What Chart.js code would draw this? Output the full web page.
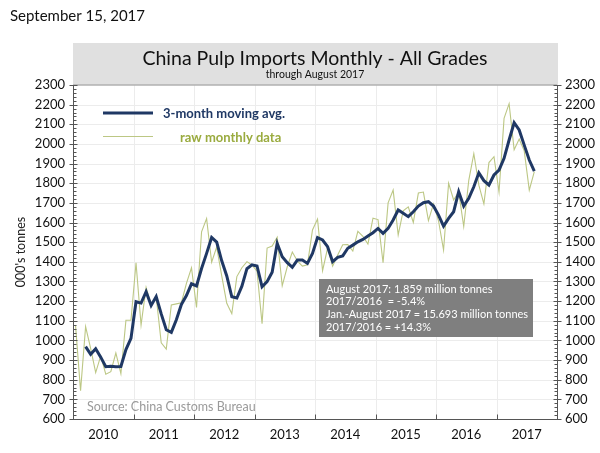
<!DOCTYPE html>
<html>
<head>
<meta charset="utf-8">
<script src="https://cdn.jsdelivr.net/npm/chart.js@4"></script>
<style>
html,body{margin:0;padding:0;background:#fff;}
#wrap{width:600px;height:453px;position:relative;}
</style>
</head>
<body>
<div id="wrap"><canvas id="c" width="600" height="453"></canvas></div>
<script>
// ---- data (000's tonnes), monthly Jan 2010 .. Aug 2017 ----
const years = ['2010','2011','2012','2013','2014','2015','2016','2017'];
const rawMonthly = [
  1078, 744, 1070, 960, 836, 921, 828, 841, 936, 831, 1103, 1103,
  1395, 1078, 1270, 1180, 1222, 988, 956, 1180, 1186, 1192, 1290, 1370,
  1168, 1553, 1620, 1398, 1475, 1328, 1189, 1136, 1325, 1370, 1401, 1384,
  1352, 1085, 1470, 1480, 1525, 1278, 1375, 1450, 1404, 1378, 1385, 1562,
  1618, 1355, 1470, 1378, 1435, 1487, 1488, 1455, 1555, 1530, 1490, 1622,
  1615, 1395, 1700, 1765, 1537, 1660, 1680, 1600, 1750, 1755, 1610, 1695,
  1609, 1460, 1800, 1715, 1756, 1580, 1815, 1950, 1790, 1695, 1905, 1935,
  1755, 2130, 2205, 1970, 2025, 1965, 1765, 1859
];
// 3-month moving average, Mar 2010 .. Aug 2017
const movingAvg = [
  968, 929, 958, 915, 866, 868, 866, 867, 953, 1010,
  1197, 1190, 1248, 1178, 1223, 1135, 1054, 1041, 1105, 1183, 1228, 1288,
  1277, 1366, 1443, 1524, 1500, 1405, 1328, 1222, 1216, 1276, 1365, 1385,
  1379, 1273, 1299, 1347, 1494, 1426, 1396, 1372, 1409, 1409, 1392, 1443,
  1523, 1511, 1477, 1401, 1423, 1430, 1469, 1485, 1502, 1514, 1531, 1548,
  1570, 1545, 1570, 1613, 1664, 1647, 1630, 1655, 1684, 1701, 1706, 1684,
  1638, 1582, 1621, 1655, 1757, 1684, 1723, 1782, 1853, 1813, 1791, 1842,
  1867, 1927, 2020, 2108, 2071, 1994, 1918, 1862
];
const maStartMonth = 2;
const yMin = 600, yMax = 2300, yStep = 100;

const FONT = 'Lato, "Open Sans", sans-serif';
const NAVY = '#1f3864';
const RAWC = '#bcc784';
const GREENTXT = '#9aab3f';

const rawPts = rawMonthly.map((v, i) => ({x: i + 0.5, y: v}));
const maPts = movingAvg.map((v, i) => ({x: i + maStartMonth + 0.5, y: v}));

const deco = {
  id: 'deco',
  beforeDraw(chart) {
    const ctx = chart.ctx;
    ctx.save();
    ctx.fillStyle = '#fff';
    ctx.fillRect(0, 0, chart.width, chart.height);
    ctx.restore();
  },
  beforeDatasetsDraw(chart) {
    const ctx = chart.ctx, a = chart.chartArea;
    const xs = chart.scales.x, ys = chart.scales.y;
    ctx.save();
    ctx.strokeStyle = '#ececec';
    ctx.lineWidth = 1;
    for (let v = yMin + yStep; v < yMax; v += yStep) {
      const p = Math.round(ys.getPixelForValue(v)) + 0.5;
      ctx.beginPath(); ctx.moveTo(a.left, p); ctx.lineTo(a.right, p); ctx.stroke();
    }
    for (let k = 1; k < years.length; k++) {
      const p = Math.round(xs.getPixelForValue(k * 12)) + 0.5;
      ctx.beginPath(); ctx.moveTo(p, a.top); ctx.lineTo(p, a.bottom); ctx.stroke();
    }
    ctx.restore();
  },
  afterDatasetsDraw(chart) {
    const ctx = chart.ctx, a = chart.chartArea;
    const xs = chart.scales.x, ys = chart.scales.y;
    ctx.save();
    // title box
    ctx.fillStyle = '#e0e0e0';
    ctx.fillRect(a.left, 43, a.right - a.left + 1, a.top - 43);
    ctx.strokeStyle = '#b0b0b0';
    ctx.lineWidth = 1.5;
    ctx.beginPath(); ctx.moveTo(a.left, a.top); ctx.lineTo(a.right, a.top); ctx.stroke();
    ctx.fillStyle = '#111';
    ctx.textAlign = 'center';
    ctx.textBaseline = 'middle';
    ctx.font = '19.5px ' + FONT;
    ctx.fillText('China Pulp Imports Monthly - All Grades', (a.left + a.right) / 2, 59);
    ctx.font = '10.5px ' + FONT;
    ctx.fillText('through August 2017', (a.left + a.right) / 2, 75);

    // axes
    ctx.strokeStyle = '#555';
    ctx.lineWidth = 1;
    const L = Math.round(a.left) + 0.5, R = Math.round(a.right) + 0.5, B = Math.round(a.bottom) + 0.5;
    ctx.beginPath();
    ctx.moveTo(L, a.top); ctx.lineTo(L, B);
    ctx.moveTo(R, a.top); ctx.lineTo(R, B);
    ctx.moveTo(L, B); ctx.lineTo(R, B);
    ctx.stroke();
    for (let v = yMin; v <= yMax; v += 20) {
      const p = Math.round(ys.getPixelForValue(v)) + 0.5;
      const major = (v % 100 === 0);
      ctx.beginPath();
      if (major) {
        ctx.moveTo(L - 4, p); ctx.lineTo(L + 4, p);
        ctx.moveTo(R - 4, p); ctx.lineTo(R + 4, p);
      } else {
        ctx.moveTo(L, p); ctx.lineTo(L + 3, p);
        ctx.moveTo(R - 3, p); ctx.lineTo(R, p);
      }
      ctx.stroke();
    }
    for (let k = 1; k < years.length; k++) {
      const p = Math.round(xs.getPixelForValue(k * 12)) + 0.5;
      ctx.beginPath(); ctx.moveTo(p, B); ctx.lineTo(p, B - 5); ctx.stroke();
    }

    // legend
    ctx.lineCap = 'butt';
    ctx.strokeStyle = NAVY; ctx.lineWidth = 3;
    ctx.beginPath(); ctx.moveTo(103, 113); ctx.lineTo(153, 113); ctx.stroke();
    ctx.strokeStyle = RAWC; ctx.lineWidth = 1.2;
    ctx.beginPath(); ctx.moveTo(103, 136.5); ctx.lineTo(153, 136.5); ctx.stroke();
    ctx.textAlign = 'left';
    ctx.font = 'bold 13px ' + FONT;
    ctx.fillStyle = NAVY;
    ctx.fillText('3-month moving avg.', 163, 114);
    ctx.fillStyle = GREENTXT;
    ctx.fillText('raw monthly data', 180, 138);

    // source
    ctx.font = '12.5px ' + FONT;
    ctx.fillStyle = '#9a9a9a';
    ctx.fillText('Source: China Customs Bureau', 87, 407);

    // annotation
    ctx.fillStyle = '#7f7f7f';
    ctx.fillRect(319, 279, 214, 58);
    ctx.fillStyle = '#fff';
    ctx.font = '11px ' + FONT;
    const lines = ['August 2017: 1.859 million tonnes', '2017/2016  = -5.4%',
                   'Jan.-August 2017 = 15.693 million tonnes', '2017/2016 = +14.3%'];
    lines.forEach((t, i) => ctx.fillText(t, 326, 289 + i * 12.8));

    // date
    ctx.fillStyle = '#111';
    ctx.font = '15px ' + FONT;
    ctx.fillText('September 15, 2017', 10, 16);

    // y title
    ctx.save();
    ctx.translate(21, 252);
    ctx.rotate(-Math.PI / 2);
    ctx.textAlign = 'center';
    ctx.font = '12.5px ' + FONT;
    ctx.fillStyle = '#222';
    ctx.fillText("000's tonnes", 0, 0);
    ctx.restore();

    ctx.restore();
  }
};

const yTickCfg = {
  stepSize: yStep,
  padding: 8,
  color: '#111',
  font: {family: FONT, size: 13},
  callback: (v) => String(v)
};

new Chart(document.getElementById('c'), {
  type: 'line',
  data: {
    datasets: [
      {label: '3-month moving avg.', data: maPts, borderColor: NAVY, borderWidth: 3,
       pointRadius: 0, tension: 0, fill: false, order: 0},
      {label: 'raw monthly data', data: rawPts, borderColor: RAWC, borderWidth: 1.1,
       pointRadius: 0, tension: 0, fill: false, order: 1}
    ]
  },
  options: {
    responsive: false,
    animation: false,
    devicePixelRatio: 1,
    layout: {padding: {top: 85, left: 0, right: 0, bottom: 0}},
    plugins: {legend: {display: false}, tooltip: {enabled: false}, title: {display: false}},
    scales: {
      x: {
        type: 'linear', min: 0, max: years.length * 12,
        grid: {display: false, drawTicks: false}, border: {display: false},
        afterBuildTicks: (s) => { s.ticks = years.map((y, i) => ({value: i * 12 + 6})); },
        ticks: {autoSkip: false, maxRotation: 0, padding: 8, color: '#111',
                font: {family: FONT, size: 13},
                callback: (v, i) => years[i]},
        afterFit: (s) => { s.height = 34; }
      },
      y: {
        type: 'linear', position: 'left', min: yMin, max: yMax,
        grid: {display: false, drawTicks: false}, border: {display: false},
        ticks: yTickCfg,
        afterFit: (s) => { s.width = 73; }
      },
      y2: {
        type: 'linear', position: 'right', min: yMin, max: yMax,
        grid: {display: false, drawTicks: false}, border: {display: false},
        ticks: yTickCfg,
        afterFit: (s) => { s.width = 43; }
      }
    }
  },
  plugins: [deco]
});
</script>
</body>
</html>
